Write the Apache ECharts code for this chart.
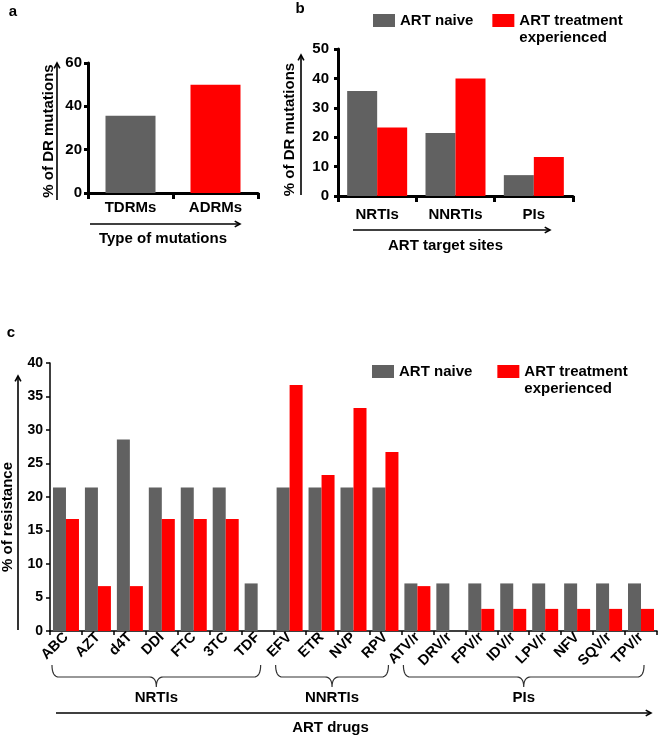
<!DOCTYPE html>
<html><head><meta charset="utf-8">
<script src="https://cdn.jsdelivr.net/npm/echarts@6/dist/echarts.min.js"></script>
<style>html,body{margin:0;padding:0;background:#fff}#c{width:660px;height:737px}</style>
</head><body><div id="c"></div>
<script>
// ---------- DATA ----------
const aCategories = ['TDRMs', 'ADRMs'];
const aValues = [35.7, 50];
const bCategories = ['NRTIs', 'NNRTIs', 'PIs'];
const bNaive = [35.7, 21.4, 7.1];
const bExperienced = [23.3, 40, 13.3];
const cCategories = ['ABC','AZT','d4T','DDI','FTC','3TC','TDF','EFV','ETR','NVP','RPV','ATV/r','DRV/r','FPV/r','IDV/r','LPV/r','NFV','SQV/r','TPV/r'];
const cNaive = [21.4,21.4,28.6,21.4,21.4,21.4,7.1,21.4,21.4,21.4,21.4,7.1,7.1,7.1,7.1,7.1,7.1,7.1,7.1];
const cExperienced = [16.7,6.7,6.7,16.7,16.7,16.7,0,36.7,23.3,33.3,26.7,6.7,0,3.3,3.3,3.3,3.3,3.3,3.3];
const cGroups = ['NRTIs', 'NNRTIs', 'PIs'];
const cGroupFirst = [0, 7, 11];
const cGroupLast = [6, 10, 18];
const seriesNames = ['ART naive', 'ART treatment experienced'];

// ---------- STYLE ----------
const GRAY = '#616161', RED = '#ff0000';
const aColors = [GRAY, RED];
const FF = '"Liberation Sans", Arial, sans-serif';
const bold = (s) => ({ fontFamily: FF, fontWeight: 'bold', fontSize: s, color: '#000' });

const chart = echarts.init(document.getElementById('c'), null, { renderer: 'canvas' });

function arrow(id, x1, y1, x2, y2) {
  const ang = Math.atan2(y2 - y1, x2 - x1), h = 6, w = 0.5;
  const p1 = [x2 - h * Math.cos(ang - w), y2 - h * Math.sin(ang - w)];
  const p2 = [x2 - h * Math.cos(ang + w), y2 - h * Math.sin(ang + w)];
  return [
    { type: 'line', id: id + 'l', shape: { x1, y1, x2, y2 }, style: { stroke: '#000', lineWidth: 1.6 }, silent: true },
    { type: 'polyline', id: id + 'h', shape: { points: [p1, [x2, y2], p2] }, style: { stroke: '#000', lineWidth: 1.6, fill: null }, silent: true }
  ];
}
function txt(id, text, x, y, size) {
  return { type: 'text', id, style: { text, x, y, font: 'bold ' + size + 'px ' + FF, fill: '#000', textAlign: 'center', textVerticalAlign: 'middle' }, silent: true };
}
function quad(p0, c, p1, n) {
  const pts = [];
  for (let i = 0; i <= n; i++) {
    const t = i / n, u = 1 - t;
    pts.push([u * u * p0[0] + 2 * u * t * c[0] + t * t * p1[0], u * u * p0[1] + 2 * u * t * c[1] + t * t * p1[1]]);
  }
  return pts;
}

const axisThick = { lineStyle: { color: '#000', width: 3 } };
const axisThin = { lineStyle: { color: '#000', width: 1.5 } };

const option = {
  backgroundColor: '#fff',
  animation: false,
  legend: [
    { data: seriesNames, left: 373, top: -5, padding: 0, itemWidth: 22, itemHeight: 13, itemGap: 19, icon: 'rect',
      textStyle: Object.assign(bold(15), { lineHeight: 17 }),
      formatter: n => n === seriesNames[1] ? '\nART treatment\nexperienced' : n, selectedMode: false },
    { data: seriesNames, left: 372, top: 346, padding: 0, itemWidth: 22, itemHeight: 13, itemGap: 25, icon: 'rect',
      textStyle: Object.assign(bold(15), { lineHeight: 17 }),
      formatter: n => n === seriesNames[1] ? '\nART treatment\nexperienced' : n, selectedMode: false }
  ],
  grid: [
    { left: 88, top: 63, width: 170, height: 130, containLabel: false, outerBoundsMode: 'none' },
    { left: 338, top: 49, width: 235, height: 147, containLabel: false, outerBoundsMode: 'none' },
    { left: 50, top: 363, width: 607, height: 268, containLabel: false, outerBoundsMode: 'none' }
  ],
  xAxis: [
    { gridIndex: 0, type: 'category', data: aCategories, axisLine: axisThick,
      axisTick: { show: true, length: 6, lineStyle: { width: 3, color: '#000' } },
      axisLabel: Object.assign(bold(15), { margin: 7 }),
      name: 'Type of mutations', nameLocation: 'middle', nameGap: 38,
      nameTextStyle: Object.assign(bold(15), { padding: [0, 20, 0, 0] }) },
    { gridIndex: 1, type: 'category', data: bCategories, axisLine: axisThick,
      axisTick: { show: true, length: 6, lineStyle: { width: 3, color: '#000' } },
      axisLabel: Object.assign(bold(15), { margin: 11 }),
      name: 'ART target sites', nameLocation: 'middle', nameGap: 42,
      nameTextStyle: Object.assign(bold(15), { padding: [0, 20, 0, 0] }) },
    { gridIndex: 2, type: 'category', data: cCategories, axisLine: axisThin,
      axisTick: { show: true, length: 4, lineStyle: { width: 1.5, color: '#000' } },
      axisLabel: Object.assign(bold(14.5), { margin: 4, rotate: 45, interval: 0 }),
      name: 'ART drugs', nameLocation: 'middle', nameGap: 89,
      nameTextStyle: Object.assign(bold(15), { padding: [0, 46, 0, 0] }) }
  ],
  yAxis: [
    { gridIndex: 0, type: 'value', min: 0, max: 60, interval: 20, splitLine: { show: false },
      axisLine: Object.assign({ show: true }, axisThick),
      axisTick: { show: true, length: 4, lineStyle: { width: 3, color: '#000' } },
      axisLabel: Object.assign(bold(15), { margin: 6 }),
      name: '% of DR mutations', nameLocation: 'middle', nameGap: 31,
      nameTextStyle: Object.assign(bold(15), { lineHeight: 16, padding: [0, 6, 0, 0] }) },
    { gridIndex: 1, type: 'value', min: 0, max: 50, interval: 10, splitLine: { show: false },
      axisLine: Object.assign({ show: true }, axisThick),
      axisTick: { show: true, length: 4, lineStyle: { width: 3, color: '#000' } },
      axisLabel: Object.assign(bold(15), { margin: 9 }),
      name: '% of DR mutations', nameLocation: 'middle', nameGap: 40,
      nameTextStyle: Object.assign(bold(15), { lineHeight: 16, padding: [0, 14, 0, 0] }) },
    { gridIndex: 2, type: 'value', min: 0, max: 40, interval: 5, splitLine: { show: false },
      axisLine: Object.assign({ show: true }, axisThin),
      axisTick: { show: true, length: 4, lineStyle: { width: 1.5, color: '#000' } },
      axisLabel: Object.assign(bold(14), { margin: 7 }),
      name: '% of resistance', nameLocation: 'middle', nameGap: 34,
      nameTextStyle: Object.assign(bold(15), { lineHeight: 16, padding: [0, 40, 0, 0] }) }
  ],
  series: [
    { type: 'bar', xAxisIndex: 0, yAxisIndex: 0, barWidth: 50,
      data: aValues.map((v, i) => ({ value: v, itemStyle: { color: aColors[i] } })) },
    { type: 'bar', name: seriesNames[0], xAxisIndex: 1, yAxisIndex: 1, barWidth: 30, barGap: '0%', itemStyle: { color: GRAY }, data: bNaive },
    { type: 'bar', name: seriesNames[1], xAxisIndex: 1, yAxisIndex: 1, barWidth: 30, barGap: '0%', itemStyle: { color: RED }, data: bExperienced },
    { type: 'bar', name: seriesNames[0], xAxisIndex: 2, yAxisIndex: 2, barWidth: 13, barGap: '0%', itemStyle: { color: GRAY }, data: cNaive },
    { type: 'bar', name: seriesNames[1], xAxisIndex: 2, yAxisIndex: 2, barWidth: 13, barGap: '0%', itemStyle: { color: RED }, data: cExperienced }
  ],
  graphic: [
    txt('la', 'a', 13, 12, 15), txt('lb', 'b', 300, 9, 15), txt('lc', 'c', 11, 333, 15),
    ...arrow('ya', 57, 200, 57, 63),
    ...arrow('yb', 301, 195, 301, 55),
    ...arrow('yc', 18, 630, 18, 376),
    ...arrow('xa', 90, 224, 240, 224),
    ...arrow('xb', 353, 230, 550, 230),
    ...arrow('xc', 56, 713, 651, 713)
  ]
};
chart.setOption(option);

// braces for drug groups, positioned from the category scale
const braceGraphics = [];
const yTop = 665, yMid = 677, yTip = 687, r = 7;
cGroups.forEach((g, k) => {
  const s = chart.convertToPixel({ xAxisIndex: 2 }, cGroupFirst[k]) - 14;
  const e = chart.convertToPixel({ xAxisIndex: 2 }, cGroupLast[k]) + 3;
  const m = (s + e) / 2;
  const pts = [].concat(
    quad([s, yTop], [s, yMid], [s + r, yMid], 8),
    quad([m - r, yMid], [m, yMid], [m, yTip], 8),
    quad([m, yTip], [m, yMid], [m + r, yMid], 8),
    quad([e - r, yMid], [e, yMid], [e, yTop], 8)
  );
  braceGraphics.push({ type: 'polyline', id: 'br' + k, shape: { points: pts }, style: { stroke: '#333', lineWidth: 1.2, fill: null }, silent: true });
  braceGraphics.push(txt('gl' + k, g, m, 698, 15));
});
chart.setOption({ graphic: braceGraphics });
</script></body></html>
